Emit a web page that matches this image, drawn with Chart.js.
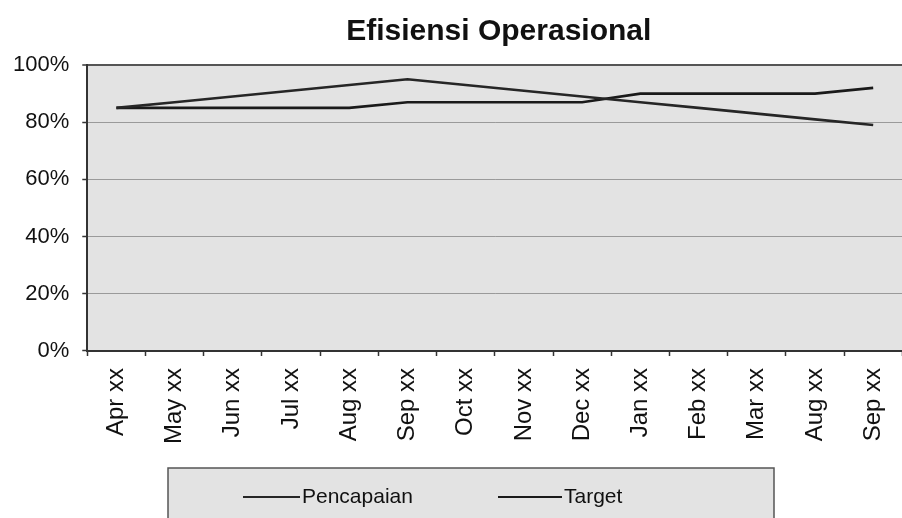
<!DOCTYPE html>
<html>
<head>
<meta charset="utf-8">
<script src="https://cdn.jsdelivr.net/npm/chart.js@4/dist/chart.umd.min.js"></script>
<style>
  body { margin: 0; background: #fff; }
  /* the reference crops the plot at its right edge */
  #wrap { width: 902px; height: 518px; overflow: hidden; }
</style>
</head>
<body>
<div id="wrap"><canvas id="myChart" width="914" height="518"></canvas></div>
<script>
var bulan = ["Apr xx", "May xx", "Jun xx", "Jul xx", "Aug xx", "Sep xx", "Oct xx",
             "Nov xx", "Dec xx", "Jan xx", "Feb xx", "Mar xx", "Aug xx", "Sep xx"]
var pencapaian = [85, 87, 89, 91, 93, 95, 93, 91, 89, 87, 85, 83, 81, 79]
var target = [85, 85, 85, 85, 85, 87, 87, 87, 87, 90, 90, 90, 90, 92]
var yTicks = [0, 20, 40, 60, 80, 100]
var judul = "Efisiensi Operasional"

// background of the plot area, the title and the boxed legend
var latar = {
  id: "latar",
  beforeDraw: function (chart) {
    var ctx = chart.ctx, a = chart.chartArea
    ctx.save()
    ctx.fillStyle = "#e3e3e3"
    ctx.fillRect(a.left, a.top, a.right - a.left, a.bottom - a.top)
    ctx.restore()
  },
  afterDraw: function (chart) {
    var ctx = chart.ctx, a = chart.chartArea
    ctx.save()
    ctx.fillStyle = "#111"
    ctx.font = "bold 30px 'Liberation Sans', Arial, sans-serif"
    ctx.textAlign = "center"
    ctx.textBaseline = "alphabetic"
    ctx.fillText(judul, (a.left + a.right) / 2 + 4, 40)

    // legend box
    ctx.fillStyle = "#e3e3e3"
    ctx.fillRect(168, 468, 606, 60)
    ctx.strokeStyle = "#555"
    ctx.lineWidth = 1.5
    ctx.strokeRect(168, 468, 606, 60)

    var items = [{ x1: 243, x2: 300 }, { x1: 498, x2: 562 }]
    ctx.font = "21px 'Liberation Sans', Arial, sans-serif"
    ctx.textAlign = "left"
    ctx.textBaseline = "middle"
    chart.data.datasets.forEach(function (ds, i) {
      var it = items[i]
      ctx.strokeStyle = ds.borderColor
      ctx.lineWidth = 2
      ctx.beginPath()
      ctx.moveTo(it.x1, 497)
      ctx.lineTo(it.x2, 497)
      ctx.stroke()
      ctx.fillStyle = "#111"
      ctx.fillText(ds.label, it.x2 + 2, 497)
    })
    ctx.restore()
  }
}

function grafik (labels, seri1, seri2) {
  var ctx = document.getElementById("myChart").getContext("2d")
  var myChart = new Chart(ctx, {
    type: "line",
    data: {
      labels: labels,
      datasets: [
        {
          label: "Pencapaian",
          data: seri1,
          borderColor: "#262626",
          borderWidth: 2.6,
          pointRadius: 0,
          tension: 0
        },
        {
          label: "Target",
          data: seri2,
          borderColor: "#1a1a1a",
          borderWidth: 2.6,
          pointRadius: 0,
          tension: 0
        }
      ]
    },
    options: {
      responsive: false,
      animation: false,
      layout: { padding: { top: 65, left: 0, right: 0, bottom: 62 } },
      plugins: {
        legend: { display: false },
        title: { display: false },
        tooltip: { enabled: false }
      },
      scales: {
        x: {
          offset: true,
          grid: {
            offset: true,
            drawOnChartArea: false,
            drawTicks: true,
            tickLength: 5,
            tickColor: "#333",
            tickWidth: 1.5
          },
          border: { color: "#333", width: 2 },
          ticks: {
            color: "#111",
            font: { family: "'Liberation Sans', Arial, sans-serif", size: 24 },
            minRotation: 90,
            maxRotation: 90,
            padding: 12,
            autoSkip: false
          }
        },
        y: {
          min: 0,
          max: 100,
          afterBuildTicks: function (axis) {
            axis.ticks = yTicks.map(function (v) { return { value: v } })
          },
          grid: {
            color: function (c) { return c.tick && c.tick.value === 100 ? "#555" : "#9a9a9a" },
            lineWidth: function (c) { return c.tick && c.tick.value === 100 ? 2 : 1 },
            tickLength: 5,
            tickColor: "#333",
            tickWidth: 1.5
          },
          border: { color: "#333", width: 2 },
          ticks: {
            color: "#111",
            font: { family: "'Liberation Sans', Arial, sans-serif", size: 22 },
            padding: 13,
            callback: function (v) { return v + "%" }
          }
        }
      }
    },
    plugins: [latar]
  })
  return myChart
}

grafik(bulan, pencapaian, target)
</script>
</body>
</html>
